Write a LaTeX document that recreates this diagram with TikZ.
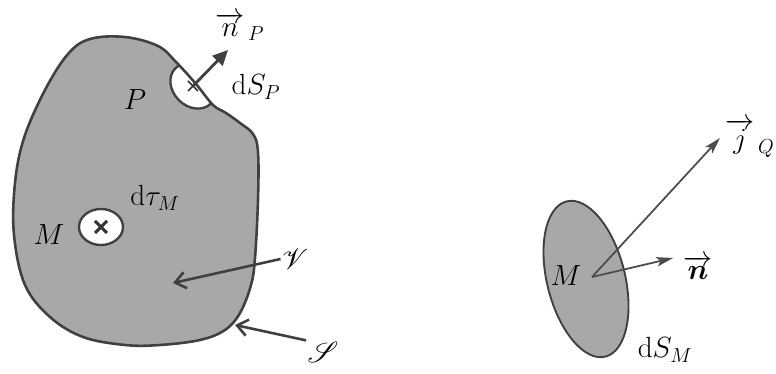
\documentclass[tikz,border=0pt]{standalone}
\usepackage{amsmath, amssymb, bm}
\usepackage{mathrsfs}
\usetikzlibrary{arrows.meta}
\definecolor{bodygray}{gray}{0.66}
\newcommand{\blobpath}{plot[smooth cycle, tension=0.6] coordinates {
    (90,39) (125,37) (158,46) (176,62) (196,84) (213,105) (226,113)
    (240,123) (253,134) (258,152) (258,200) (255,258) (251,285) (240,313)
    (225,330) (200,340) (160,345) (125,345) (83,337) (50,317) (25,285)
    (14,235) (15,183) (24,138) (45,90) (68,54)}}

\begin{document}
\begin{tikzpicture}[x=0.03cm, y=-0.03cm,
    every node/.style={font=\fontsize{23}{27}\selectfont, inner sep=1pt},
    rim/.style={draw=black!75, line width=2.2pt},
    hole/.style={fill=white, draw=black!75, line width=2pt},
    normal/.style={draw=black!75, line width=2.4pt,
                   -{Triangle[length=13pt, width=12pt]}},
    flux/.style={draw=black!70, line width=1.5pt,
                 -{Stealth[length=14pt, width=8pt, inset=3pt]}},
    pointer/.style={draw=black!75, line width=2.2pt,
                    -{Straight Barb[length=9pt, width=14pt]}}]
    \useasboundingbox (0,0) rectangle (776,374);
    % volume V bounded by S
    \fill[bodygray] \blobpath;
    \begin{scope}
        \clip \blobpath;
        \draw[hole, rotate around={-45:(193,86)}] (193,86)
            ellipse [x radius=25, y radius=20];
    \end{scope}
    \draw[rim] \blobpath;
    \draw[hole] (101,227) ellipse [x radius=22, y radius=18];
    % points
    \coordinate (mP) at (193,86);
    \coordinate (mM) at (101,227);
    \draw[black!80, line width=1.5pt] (188,81) -- (198,91) (188,91) -- (198,81);
    \draw[black!80, line width=2.6pt] (95,221) -- (107,233) (95,233) -- (107,221);
    % labels
    \node (labnP) at (240,27) {$\overrightarrow{n}_{\,P}$};
    \node (labdSP) at (256,87) {$\mathrm{d}S_P$};
    \node (labP) at (135,100) {$P$};
    \node (labdtau) at (155,198) {$\mathrm{d}\tau_M$};
    \node (labM) at (49,235) {$M$};
    \node (labV) at (295,259) {$\mathscr{V}$};
    \node (labS) at (323,352) {$\mathscr{S}$};
    \coordinate (nPtip) at (228,50);
    \coordinate (Vtip) at (173,283);
    \coordinate (Stip) at (235,325);
    \draw[normal] (mP) -- (nPtip);
    \draw[pointer] (labV.west) -- (Vtip);
    \draw[pointer] (labS.north west) -- (Stip);
    % surface element dS_M
    \draw[fill=bodygray, draw=black!75, line width=1.6pt,
          rotate around={14:(586,279)}] (586,279)
        ellipse [x radius=39, y radius=80];
    \coordinate (mR) at (592,277);
    \coordinate (jtip) at (720,138);
    \coordinate (ntip) at (673,258);
    \node (labMR) at (566,276) {$M$};
    \node (labn) at (698,268) {$\overrightarrow{\boldsymbol{n}}$};
    \node (labj) at (750,138) {$\overrightarrow{j}_{\,Q}$};
    \node (labdSM) at (665,350) {$\mathrm{d}S_M$};
    \draw[flux] (mR) -- (jtip);
    \draw[flux] (mR) -- (ntip);
\end{tikzpicture}
\end{document}
